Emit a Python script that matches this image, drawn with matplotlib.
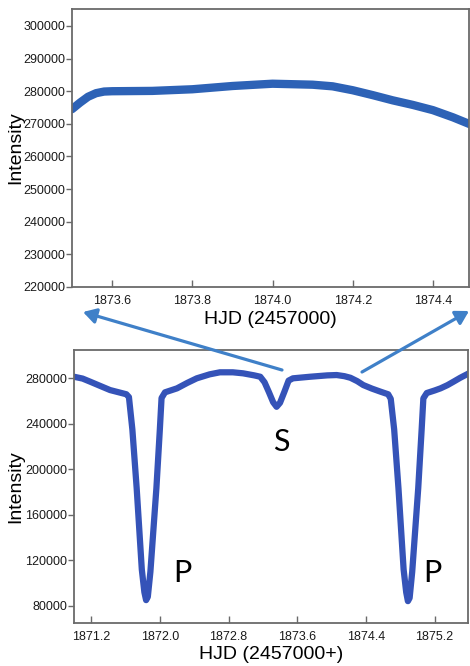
import matplotlib
matplotlib.use("Agg")
import matplotlib.pyplot as plt
from matplotlib.patches import FancyArrowPatch

# ---- data: top panel (zoomed light curve) ----
top_hjd = [1873.50, 1873.52, 1873.54, 1873.56, 1873.58, 1873.60, 1873.70, 1873.80,
           1873.90, 1874.00, 1874.10, 1874.15, 1874.20, 1874.25, 1874.30,
           1874.35, 1874.40, 1874.45, 1874.50]
top_int = [274500, 276500, 278300, 279400, 279900, 280000, 280100, 280600,
           281600, 282300, 282000, 281500, 280300, 278800, 277200,
           275800, 274200, 272000, 269500]
top_xticks = [1873.6, 1873.8, 1874.0, 1874.2, 1874.4]
top_yticks = [220000, 230000, 240000, 250000, 260000, 270000, 280000, 290000, 300000]

# ---- data: bottom panel (full light curve) ----
bot_hjd = [1871.00, 1871.10, 1871.19, 1871.30, 1871.42, 1871.61, 1871.64, 1871.68,
           1871.73, 1871.79, 1871.82, 1871.84, 1871.86, 1871.89, 1871.96, 1872.00,
           1872.02, 1872.06, 1872.20, 1872.32, 1872.43, 1872.58, 1872.70, 1872.85,
           1872.97, 1873.10, 1873.17, 1873.22, 1873.27, 1873.32, 1873.36, 1873.40,
           1873.45, 1873.50, 1873.55, 1873.75, 1873.95, 1874.06, 1874.15, 1874.22,
           1874.30, 1874.37, 1874.47, 1874.57, 1874.66, 1874.69, 1874.73, 1874.78,
           1874.84, 1874.87, 1874.89, 1874.91, 1874.94, 1875.01, 1875.05, 1875.07,
           1875.11, 1875.20, 1875.27, 1875.35, 1875.42, 1875.50, 1875.60]
bot_int = [281400, 279800, 277000, 273500, 269700, 266000, 263500, 235000,
           183600, 112000, 92000, 85100, 88000, 110000, 183600, 235000,
           262700, 267700, 271200, 276000, 280000, 283500, 285300, 285300,
           284400, 282600, 281400, 276500, 268000, 259000, 255000, 258500,
           268000, 278000, 280000, 281400, 282600, 282900, 281900, 280500,
           277500, 274100, 271000, 268300, 266000, 262000, 235000, 183300,
           112000, 92000, 84200, 87000, 110000, 183300, 235000, 262400,
           267100, 269300, 271200, 274000, 277000, 280500, 284400]
bot_xticks = [1871.2, 1872.0, 1872.8, 1873.6, 1874.4, 1875.2]
bot_yticks = [80000, 120000, 160000, 200000, 240000, 280000]

labels = ["S", "P", "P"]
label_hjd = [1873.42, 1872.26, 1875.17]
label_int = [224300, 108800, 108800]

W, H = 470, 666
fig = plt.figure(figsize=(W / 100, H / 100), dpi=100)
fig.patch.set_facecolor("white")

tick_font = dict(family=["Liberation Sans", "DejaVu Sans"], size=9)
lab_font = dict(family=["Liberation Sans", "DejaVu Sans"], size=14)
spine_col = "#6a6a6a"

def style(ax):
    for s in ax.spines.values():
        s.set_color(spine_col)
        s.set_linewidth(1.3)
    ax.tick_params(axis="x", direction="in", length=5, color=spine_col, width=1, pad=6)
    ax.tick_params(axis="y", direction="out", length=4, color=spine_col, width=1, pad=1)
    for t in ax.get_xticklabels() + ax.get_yticklabels():
        t.set_fontfamily(tick_font["family"])
        t.set_fontsize(tick_font["size"])
        t.set_color("#1a1a1a")

# top axes
ax1 = fig.add_axes([72 / W, 1 - 287 / H, (469 - 72) / W, (287 - 9) / H])
ax1.plot(top_hjd, top_int, color="#2d62b6", lw=6, solid_capstyle="round",
         solid_joinstyle="round")
ax1.set_xlim(1873.5, 1874.49)
ax1.set_ylim(220000, 305200)
ax1.set_xticks(top_xticks)
ax1.set_xticklabels([f"{v:.1f}" for v in top_xticks])
ax1.set_yticks(top_yticks)
ax1.set_yticklabels([str(v) for v in top_yticks])
ax1.set_xlabel("HJD (2457000)", **lab_font, labelpad=3)
ax1.set_ylabel("Intensity", **lab_font)
ax1.yaxis.set_label_coords((24 - 72) / (469 - 72), 0.5)
style(ax1)

# bottom axes
ax2 = fig.add_axes([74 / W, 1 - 623 / H, (468 - 74) / W, (623 - 350) / H])
ax2.plot(bot_hjd, bot_int, color="#3553b8", lw=4.5, solid_joinstyle="round",
         solid_capstyle="round")
ax2.set_xlim(1871.0, 1875.59)
ax2.set_ylim(65000, 304900)
ax2.set_xticks(bot_xticks)
ax2.set_xticklabels([f"{v:.1f}" for v in bot_xticks])
ax2.set_yticks(bot_yticks)
ax2.set_yticklabels([str(v) for v in bot_yticks])
ax2.set_xlabel("HJD (2457000+)", **lab_font, labelpad=2)
ax2.set_ylabel("Intensity", **lab_font)
ax2.yaxis.set_label_coords((24 - 74) / (468 - 74), 0.5)
style(ax2)

for txt, x, y in zip(labels, label_hjd, label_int):
    ax2.text(x, y, txt, fontsize=22, family=["Lato", "DejaVu Sans"],
             ha="center", va="center", color="black")

# arrows linking the panels (figure pixel coords)
def fpx(x, y):
    return (x / W, 1 - y / H)

arrow_col = "#3f80c8"
for start, end in [((282, 370), (83, 312)), ((362, 372), (469, 311))]:
    a = FancyArrowPatch(fpx(*start), fpx(*end), transform=fig.transFigure,
                        arrowstyle="-|>,head_length=6,head_width=3.5",
                        color=arrow_col, lw=2.3, mutation_scale=1.3,
                        shrinkA=0, shrinkB=0)
    fig.add_artist(a)

fig.savefig("out.png", dpi=100)
